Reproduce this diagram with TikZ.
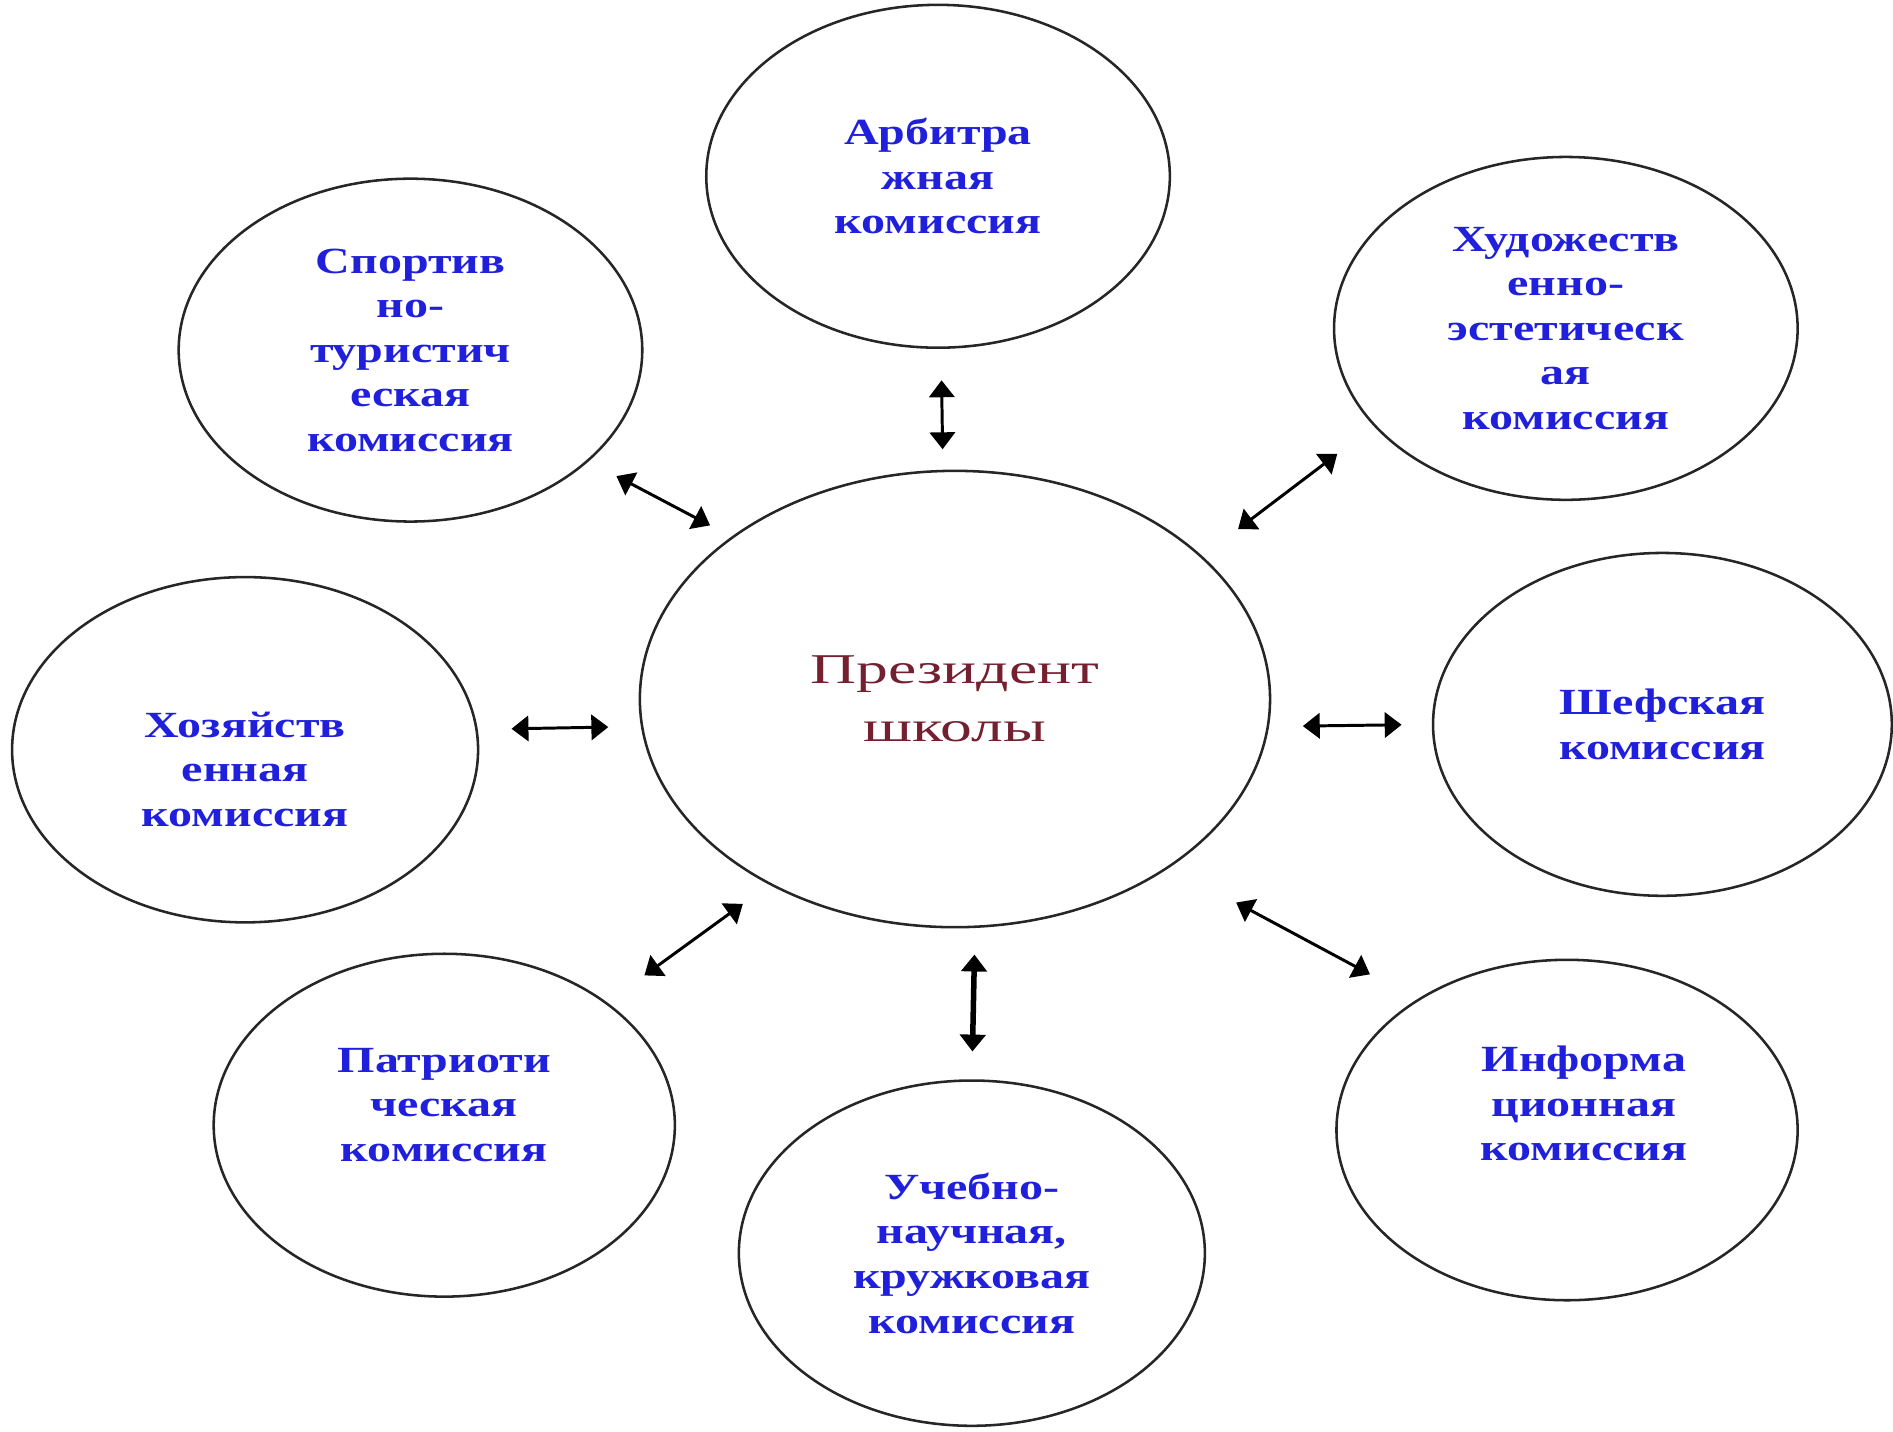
\documentclass[tikz,border=0pt]{standalone}
\usepackage{fontspec}
\setmainfont{Liberation Serif}
\newfontfamily\commfont[FakeStretch=1.3]{Liberation Serif}
\newfontfamily\presfont[FakeStretch=1.5]{Liberation Serif}
\usepackage{xcolor}
\usepackage{tikz}
\usetikzlibrary{positioning, shapes.geometric, arrows.meta}
\definecolor{C1}{HTML}{2020DC}
\definecolor{C2}{HTML}{742030}

\begin{document}
\begin{tikzpicture}[
	cvertex/.style = {draw=black!85, ellipse, align=center, inner sep=0pt, line width=0.6pt, minimum width=5.22cm, minimum height=3.78cm, text=C2, font=\presfont\fontsize{10}{13.6}\selectfont},
	vertex/.style = {draw=black!85, ellipse, align=center, inner sep=0pt, line width=0.6pt, minimum width=3.84cm, minimum height=2.84cm, text=C1, font=\commfont\bfseries\fontsize{8.7}{10.5}\selectfont},
	ltext/.style = {align=center, inner sep=0pt, text=C1, font=\commfont\bfseries\fontsize{8.7}{10.5}\selectfont},
  every edge/.style={draw, {Triangle[length=1.4mm, width=2.1mm]}-{Triangle[length=1.4mm, width=2.1mm]}, line width=0.7pt}
]
  \useasboundingbox (0, 0) rectangle (15.68, -11.86);
  % Define vertices
  \node[cvertex] at (7.91, -5.79) (pres) {Президент \\ школы};
  \node[vertex] at (7.77, -1.46) (arb) {Арбитра \\ жная \\ комиссия};
  \node[vertex] at (3.40, -2.90) (sport) {Спортив \\ но- \\ туристич \\ еская \\ комиссия};
  \node[vertex] at (12.97, -2.72) (art) {Художеств \\ енно- \\ эстетическ \\ ая \\ комиссия};
  \node[vertex, minimum width=3.86cm, minimum height=2.86cm,
    label={[ltext, yshift=-0.16cm]center:{Хозяйств \\ енная \\ комиссия}}] at (2.03, -6.21) (econ) {};
  \node[vertex, minimum width=3.80cm] at (13.77, -6.00) (patron) {Шефская \\ комиссия};
  \node[vertex, minimum width=3.82cm,
    label={[ltext, yshift=0.17cm]center:{Патриоти \\ ческая \\ комиссия}}] at (3.68, -9.32) (patr) {};
  \node[vertex, minimum width=3.86cm, minimum height=2.86cm] at (8.05, -10.38) (study) {Учебно- \\ научная, \\ кружковая \\ комиссия};
  \node[vertex, minimum width=3.82cm, minimum height=2.82cm,
    label={[ltext, shift={(0.14, 0.22)}]center:{Информа \\ ционная \\ комиссия}}] at (12.98, -9.36) (info) {};

  % Edges
  \draw (pres.93.9) edge[shorten <=0.17cm, shorten >=0.26cm] (arb.-89.6);
  \draw (pres.144.4) edge[shorten <=0.20cm, shorten >=0.26cm] (sport.-32.6);
  \draw (pres.30.9) edge[shorten <=0.37cm, shorten >=0.38cm] (art.-153);
  \draw (pres.185.1) edge[shorten <=0.27cm, shorten >=0.28cm] (econ.5.7);
  \draw (pres.-5.1) edge[shorten <=0.28cm, shorten >=0.25cm] (patron.180);
  \draw (pres.225.3) edge[shorten <=0.27cm, shorten >=0.38cm] (patr.37.5);
  \draw (pres.-85.5) edge[shorten <=0.22cm, shorten >=0.23cm, line width=1.3pt] (study.90);
  \draw (pres.-38.5) edge[shorten <=0.62cm, shorten >=0.44cm] (info.139.2);
\end{tikzpicture}
\end{document}
